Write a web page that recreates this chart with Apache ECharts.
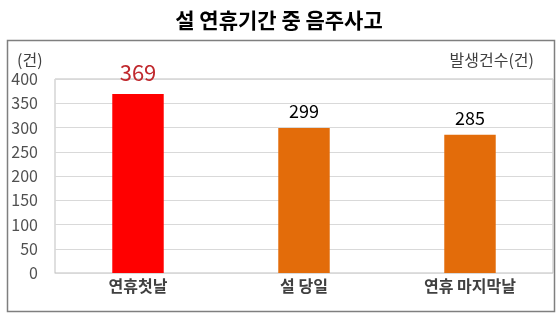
<!DOCTYPE html>
<html><head><meta charset="utf-8">
<script src="https://cdn.jsdelivr.net/npm/echarts@6/dist/echarts.min.js"></script>
<style>html,body{margin:0;padding:0;background:#fff}#c{width:560px;height:318px}</style>
</head><body><div id="c"></div>
<script>
const categories = ['연휴첫날', '설 당일', '연휴 마지막날'];
const values = [369, 299, 285];
const barColors = ['#FF0000', '#E36C0A', '#E36C0A'];
const labelColors = ['#C0282D', '#000000', '#000000'];
const labelSizes = [22, 18, 18];
const yTicks = [0, 50, 100, 150, 200, 250, 300, 350, 400];

const chart = echarts.init(document.getElementById('c'), null, {renderer: 'canvas'});
const font = '"Noto Sans CJK KR", "Noto Sans", sans-serif';
chart.setOption({
  animation: false,
  textStyle: {fontFamily: font},
  title: {
    text: '설 연휴기간 중 음주사고', left: 274, top: 5, textAlign: 'center',
    textStyle: {fontSize: 21, fontWeight: 'bold', color: '#000', fontFamily: font}
  },
  graphic: [
    {type: 'rect', shape: {x: 7.5, y: 40.5, width: 547, height: 271}, style: {fill: 'none', stroke: '#7f7f7f', lineWidth: 1.5}, z: -1},
    {type: 'text', left: 17, top: 52, style: {text: '(건)', font: '16px ' + font, fill: '#404040'}},
    {type: 'text', right: 26, top: 52, style: {text: '발생건수(건)', font: '16px ' + font, fill: '#404040'}}
  ],
  grid: {left: 55, right: 7, top: 79, bottom: 45, show: true, borderColor: '#bfbfbf', borderWidth: 1},
  xAxis: {
    type: 'category', data: categories,
    axisLine: {show: true, lineStyle: {color: '#d9d9d9'}},
    axisTick: {show: false},
    axisLabel: {fontSize: 16, fontWeight: 'bold', color: '#404040', margin: 5, fontFamily: font}
  },
  yAxis: {
    type: 'value', min: 0, max: 400, interval: 50,
    axisLine: {show: false}, axisTick: {show: false},
    splitLine: {lineStyle: {color: '#d9d9d9'}},
    axisLabel: {fontSize: 16, color: '#505050', margin: 17, fontFamily: font,
      formatter: v => yTicks.includes(v) ? String(v) : ''}
  },
  series: [{
    type: 'bar', barWidth: '31%',
    data: values.map((v, i) => ({
      value: v,
      itemStyle: {color: barColors[i]},
      label: {show: true, position: 'top', distance: i === 0 ? 10 : 8, color: labelColors[i], fontSize: labelSizes[i], fontFamily: font}
    }))
  }]
});
</script></body></html>
